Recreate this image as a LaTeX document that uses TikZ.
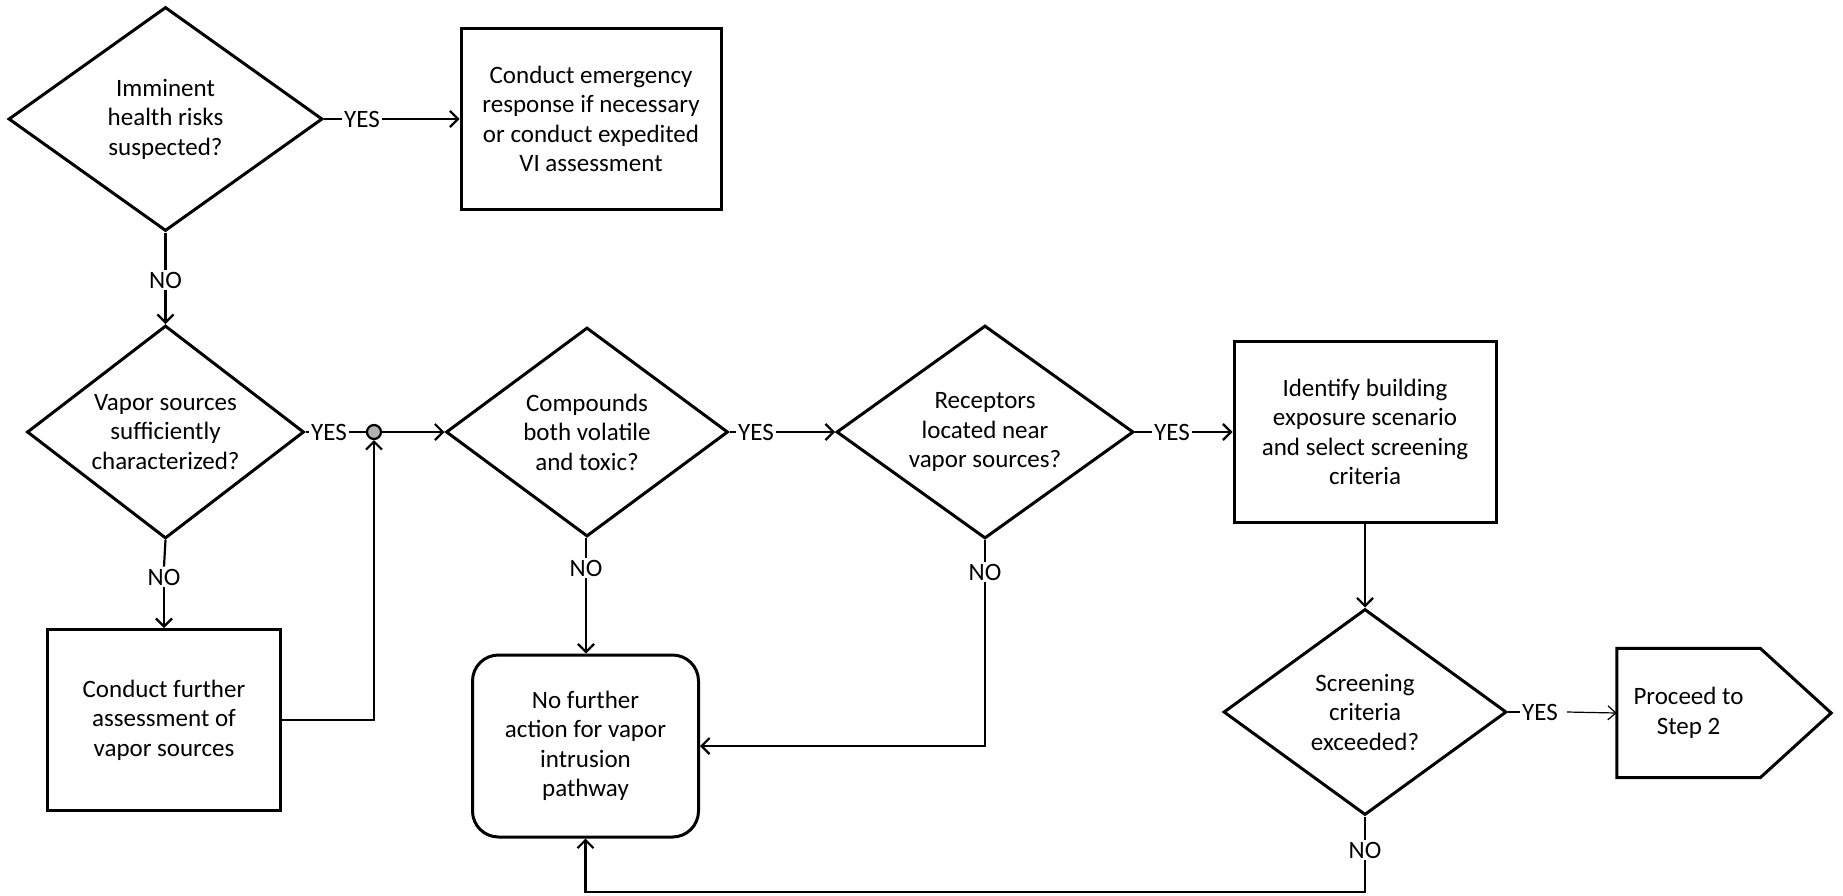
\documentclass[tikz,border=0pt]{standalone}
\usepackage{fontspec}
\setmainfont{Carlito}
\usetikzlibrary{shapes.geometric,arrows.meta,calc}
\begin{document}
\begin{tikzpicture}[x=1pt,y=-1pt,
 every node/.style={font=\fontsize{25}{29.5}\selectfont, align=center},
 dia/.style={diamond, draw, line width=3pt, aspect=1.4, inner sep=0pt},
 box/.style={rectangle, draw, line width=3pt, inner sep=0pt},
 rbox/.style={rectangle, rounded corners=26pt, draw, line width=3pt, inner sep=0pt},
 lab/.style={inner sep=2pt},
 ln/.style={line width=2.2pt},
 conn/.style={line width=2.2pt, -{Straight Barb[length=8pt,width=16pt,line width=2.2pt]}},
 thinconn/.style={line width=1.2pt, -{Straight Barb[length=8pt,width=14pt,line width=1.2pt]}},
]
\useasboundingbox (0,0) rectangle (1843,895);

% shapes
\node[dia, minimum width=314pt, minimum height=224pt] (d1) at (165.5,119) {Imminent\\health risks\\suspected?};
\node[box, minimum width=260pt, minimum height=181pt] (b1) at (591,119) {Conduct emergency\\response if necessary\\or conduct expedited\\VI assessment};
\node[dia, minimum width=277pt, minimum height=213pt] (d2) at (165.5,432) {Vapor sources\\sufficiently\\characterized?};
\node[box, minimum width=233pt, minimum height=181pt] (b2) at (164,720) {Conduct further\\assessment of\\vapor sources};
\node[dia, minimum width=282pt, minimum height=209pt] (d3) at (587,432) {Compounds\\both volatile\\and toxic?};
\node[rbox, minimum width=226pt, minimum height=182pt] (r) at (585.5,746) {No further\\action for vapor\\intrusion\\pathway};
\node[dia, minimum width=297pt, minimum height=213pt] (d4) at (985,432) {Receptors\\located near\\vapor sources?};
\node[box, minimum width=262pt, minimum height=181pt] (b3) at (1365,432) {Identify building\\exposure scenario\\and select screening\\criteria};
\node[dia, minimum width=283pt, minimum height=206pt] (d5) at (1365,712) {Screening\\criteria\\exceeded?};
\node[inner sep=0pt, minimum width=143pt, minimum height=129pt] (p) at (1688.5,713) {Proceed to\\Step 2};
\draw[line width=3pt, line join=miter] (p.north west) -- (p.north east) -- ($(p.east)+(71,0)$) -- (p.south east) -- (p.south west) -- cycle;

% junction
\node[circle, draw, line width=2.2pt, fill=gray!60, minimum size=14pt, inner sep=0pt] (j) at (374,432) {};

% labels
\node[lab] (y1) at (362,119) {YES};
\node[lab] (n1) at (165.5,280) {NO};
\node[lab] (y2) at (329,432) {YES};
\node[lab] (n2) at (164,577) {NO};
\node[lab] (y3) at (756,432) {YES};
\node[lab] (n3) at (586,568) {NO};
\node[lab] (y4) at (1172,432) {YES};
\node[lab] (n4) at (985,572) {NO};
\node[lab] (y5) at (1540,712) {YES};
\node[lab] (n5) at (1365,850) {NO};
\coordinate (c5) at (1365,892);
\coordinate (y5e) at ($(y5.east)+(7,0)$);

% connectors
\draw[ln] (d1.east) -- (y1.west);
\draw[conn] (y1.east) -- (y1.east -| b1.west);
\draw[ln] (d1.south) -- (n1.north);
\draw[conn] (n1.south) -- (d2.north);
\draw[ln] (d2.east) -- (y2.west);
\draw[ln] (y2.east) -- (j.west);
\draw[conn] (j.east) -- (d3.west);
\draw[ln] (d2.south) -- (n2.north);
\draw[conn] (n2.south) -- (b2.north);
\draw[conn] (b2.east) -| (j.south);
\draw[ln] (d3.south -| n3) -- (n3.north);
\draw[conn] (n3.south) -- (r.north -| n3);
\draw[ln] (d3.east) -- (y3.west);
\draw[conn] (y3.east) -- (d4.west);
\draw[ln] (d4.south) -- (n4.north);
\draw[conn] (n4.south) |- (r.east);
\draw[ln] (d4.east) -- (y4.west);
\draw[conn] (y4.east) -- (b3.west);
\draw[conn] (b3.south) -- (d5.north);
\draw[ln] (d5.east) -- (y5.west);
\draw[thinconn] (y5e) -- (p.west);
\draw[ln] (d5.south) -- (n5.north);
\draw[conn] (n5.south) -- (c5) -| (r.south);
\end{tikzpicture}
\end{document}
